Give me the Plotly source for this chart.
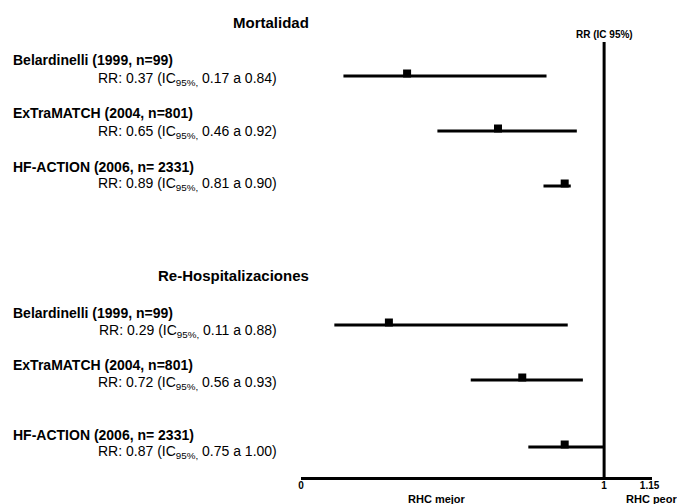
import plotly.graph_objects as go

# ---- data ----
studies = ["Belardinelli (1999, n=99)", "ExTraMATCH (2004, n=801)", "HF-ACTION (2006, n= 2331)"]
sections = ["Mortalidad", "Re-Hospitalizaciones"]

# drawn estimates
mort_rr = [0.35, 0.65, 0.87]
mort_lo = [0.14, 0.45, 0.80]
mort_hi = [0.81, 0.91, 0.89]
hosp_rr = [0.29, 0.73, 0.87]
hosp_lo = [0.11, 0.56, 0.75]
hosp_hi = [0.88, 0.93, 1.00]

# values printed in the labels
mort_txt_rr = [0.37, 0.65, 0.89]
mort_txt_lo = [0.17, 0.46, 0.81]
mort_txt_hi = [0.84, 0.92, 0.90]
hosp_txt_rr = [0.29, 0.72, 0.87]
hosp_txt_lo = [0.11, 0.56, 0.75]
hosp_txt_hi = [0.88, 0.93, 1.00]

tick_vals = [0, 1, 1.15]
tick_text = ["0", "1", "1.15"]
ref_value = 1
x_max = 1.158

# ---- layout constants (pixel rows) ----
W, H = 677, 504
ML, MR, MT, MB = 301, 25, 0, 27
PLOT_BOTTOM = H - MB
PLOT_W = W - ML - MR
row_y_mort = [76, 131, 186]
row_y_hosp = [325, 380, 447]
name_y_mort = [60, 113, 167]
rr_y_mort = [79, 132, 184]
name_y_hosp = [313, 365, 435]
rr_y_hosp = [331, 383, 452]
title_y = [23, 275]
FONT = "Liberation Sans, Arial, Helvetica, sans-serif"


def pxx(p):
    return (p - ML) / PLOT_W


def pxy(p):
    return (PLOT_BOTTOM - p) / (PLOT_BOTTOM - MT)


fig = go.Figure()

line_x, line_y, mk_x, mk_y = [], [], [], []
for rr, lo, hi, ys in [(mort_rr, mort_lo, mort_hi, row_y_mort), (hosp_rr, hosp_lo, hosp_hi, row_y_hosp)]:
    for r, l, h, y in zip(rr, lo, hi, ys):
        line_x += [l, h, None]
        line_y += [y, y, None]
        mk_x.append(r)
        mk_y.append(y - 2.5)

fig.add_trace(go.Scatter(x=line_x, y=line_y, mode="lines",
                         line=dict(color="black", width=3), hoverinfo="skip", showlegend=False))
fig.add_trace(go.Scatter(x=mk_x, y=mk_y, mode="markers",
                         marker=dict(symbol="square", size=8, color="black", line=dict(width=0)),
                         showlegend=False, cliponaxis=False))

# reference line at RR = 1
fig.add_shape(type="line", x0=ref_value, x1=ref_value, y0=42, y1=PLOT_BOTTOM + 1,
              xref="x", yref="y", line=dict(color="black", width=3))

ann = []
# section titles
for t, y in zip(sections, title_y):
    ann.append(dict(x=pxx(311), y=pxy(y), xref="paper", yref="paper", text=f"<b>{t}</b>",
                    xanchor="right", yanchor="middle",
                    showarrow=False, font=dict(size=15, family=FONT, color="black")))

for ny, ry, rr, lo, hi in [(name_y_mort, rr_y_mort, mort_txt_rr, mort_txt_lo, mort_txt_hi),
                           (name_y_hosp, rr_y_hosp, hosp_txt_rr, hosp_txt_lo, hosp_txt_hi)]:
    for s, y1, y2, r, l, h in zip(studies, ny, ry, rr, lo, hi):
        ann.append(dict(x=pxx(11), y=pxy(y1), xref="paper", yref="paper", text=f"<b>{s}</b>",
                        xanchor="left", yanchor="middle",
                        showarrow=False, font=dict(size=14, family=FONT, color="black")))
        ann.append(dict(x=pxx(279), y=pxy(y2), xref="paper", yref="paper",
                        text=f"RR: {r:.2f} (IC<sub>95%,</sub> {l:.2f} a {h:.2f})",
                        xanchor="right", yanchor="middle",
                        showarrow=False, font=dict(size=14, family=FONT, color="black")))

ann.append(dict(x=ref_value, y=pxy(34), xref="x", yref="paper", text="<b>RR (IC 95%)</b>",
                xanchor="center", yanchor="middle",
                showarrow=False, font=dict(size=10, family=FONT, color="black")))
ann.append(dict(x=pxx(437), y=pxy(499), xref="paper", yref="paper", text="<b>RHC mejor</b>",
                xanchor="center", yanchor="middle",
                showarrow=False, font=dict(size=11, family=FONT, color="black")))
ann.append(dict(x=pxx(651), y=pxy(499), xref="paper", yref="paper", text="<b>RHC peor</b>",
                xanchor="center", yanchor="middle",
                showarrow=False, font=dict(size=11, family=FONT, color="black")))

fig.update_layout(
    width=W, height=H,
    margin=dict(l=ML, r=MR, t=MT, b=MB),
    paper_bgcolor="white", plot_bgcolor="white",
    annotations=ann,
    showlegend=False,
    xaxis=dict(range=[0, x_max], showgrid=False, zeroline=False, showline=True,
               linecolor="black", linewidth=3, ticks="", ticklabelstandoff=-3,
               tickvals=tick_vals, ticktext=[f"<b>{t}</b>" for t in tick_text],
               tickfont=dict(size=10, family=FONT, color="black"), fixedrange=True),
    yaxis=dict(range=[PLOT_BOTTOM, MT], visible=False, fixedrange=True),
)

fig.write_html("out.html", config={"displayModeBar": False},
               post_script="document.body.style.margin='0';document.body.style.padding='0';")
